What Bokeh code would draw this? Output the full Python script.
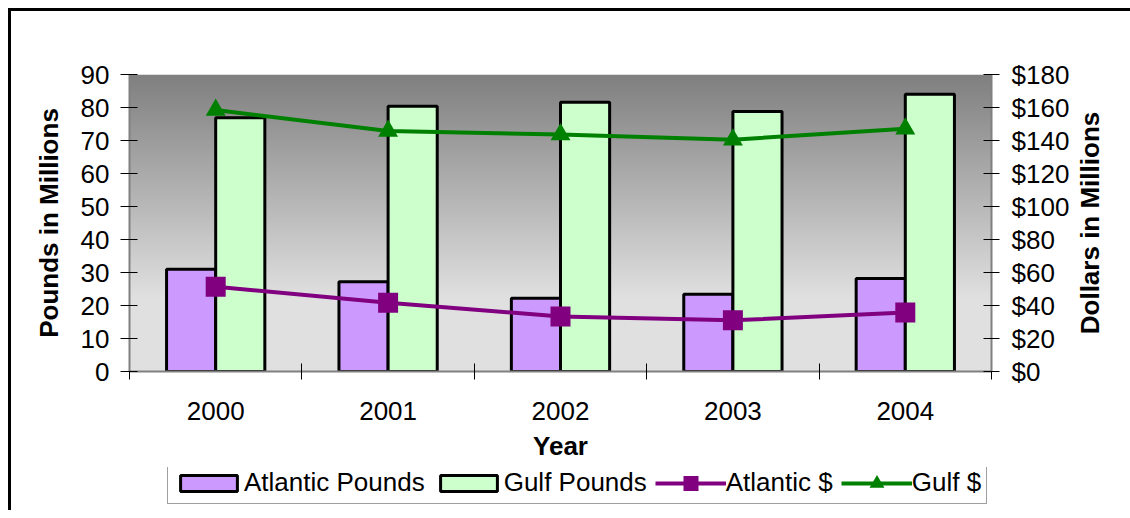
import math
import numpy as np
from bokeh.plotting import figure
from bokeh.layouts import column
from bokeh.models import (Range1d, LinearAxis, FixedTicker, PrintfTickFormatter,
                          Legend, LegendItem, ColumnDataSource, Label)
from bokeh.transform import dodge
from bokeh.embed import file_html
from bokeh.resources import INLINE

# ---- data ----
years = ["2000", "2001", "2002", "2003", "2004"]
atlantic_pounds = [31.0, 27.2, 22.2, 23.4, 28.2]
gulf_pounds = [76.9, 80.4, 81.6, 78.8, 84.0]
atlantic_dollars = [51.4, 41.7, 33.3, 31.0, 35.7]
gulf_dollars = [158.5, 145.7, 143.7, 140.5, 147.1]
pound_ticks = list(range(0, 100, 10))
dollar_ticks = list(range(0, 200, 20))

FONT = "Liberation Sans"
FS = "26px"
C_AP, C_GP, C_AD, C_GD = "#CC99FF", "#CCFFCC", "#800080", "#008000"

x_center = [i + 0.5 for i in range(len(years))]
src = ColumnDataSource(dict(x=x_center, year=years, ap=atlantic_pounds, gp=gulf_pounds,
                            ad=atlantic_dollars, gd=gulf_dollars))


def add_series(fig, dollars_range):
    r_ap = fig.vbar(x=dodge("x", -0.1425, range=fig.x_range), top="ap", width=0.285, source=src,
                    fill_color=C_AP, line_color="black", line_width=3)
    r_gp = fig.vbar(x=dodge("x", 0.1425, range=fig.x_range), top="gp", width=0.285, source=src,
                    fill_color=C_GP, line_color="black", line_width=3)
    r_adl = fig.line("x", "ad", source=src, y_range_name=dollars_range, line_color=C_AD, line_width=4)
    r_adm = fig.scatter("x", "ad", source=src, y_range_name=dollars_range, marker="square", size=13,
                        fill_color=C_AD, line_color=C_AD, line_width=7, line_join="miter")
    r_gdl = fig.line("x", "gd", source=src, y_range_name=dollars_range, line_color=C_GD, line_width=4)
    r_gdm = fig.scatter("x", "gd", source=src, y_range_name=dollars_range, marker="triangle", size=13,
                        fill_color=C_GD, line_color=C_GD, line_width=4, line_join="miter")
    return r_ap, r_gp, r_adl, r_adm, r_gdl, r_gdm


# ---------------- main chart ----------------
p = figure(width=1119, height=456,
           x_range=Range1d(0, len(years)), y_range=Range1d(0, 90),
           output_backend="svg", toolbar_location=None,
           min_border_left=118, min_border_right=139, min_border_top=63, min_border_bottom=96,
           x_axis_type=None, y_axis_type=None)
p.extra_y_ranges = {"dollars": Range1d(0, 180)}
p.outline_line_color = None
p.background_fill_color = "white"
p.border_fill_color = "white"

# gradient background of the plot area
N = 300
t = np.linspace(0, 1, N)  # 0 bottom -> 1 top
g = np.where(t < 0.25, 224, 224 - 96 * (t - 0.25) / 0.75).astype(np.uint8)
img = np.empty((N, 1), dtype=np.uint32)
view = img.view(dtype=np.uint8).reshape((N, 1, 4))
view[:, 0, 0] = g
view[:, 0, 1] = g
view[:, 0, 2] = g
view[:, 0, 3] = 255
p.image_rgba(image=[img], x=0, y=0, dw=len(years), dh=90)

add_series(p, "dollars")


def style_axis(ax):
    ax.axis_line_color = "#808080"
    ax.axis_line_width = 2
    ax.major_tick_line_color = "black"
    ax.major_tick_line_width = 1
    ax.minor_tick_line_color = "black"
    ax.major_label_text_font = FONT
    ax.major_label_text_font_size = FS
    ax.major_label_text_color = "black"
    ax.axis_label_text_font = FONT
    ax.axis_label_text_font_size = FS
    ax.axis_label_text_font_style = "bold"
    ax.axis_label_text_color = "black"


ax_left = LinearAxis(axis_label="Pounds in Millions", ticker=FixedTicker(ticks=pound_ticks))
style_axis(ax_left)
ax_left.major_tick_in = 8
ax_left.major_tick_out = 9
ax_left.major_label_standoff = 11
ax_left.axis_label_standoff = 14
ax_left.minor_tick_line_color = None
p.add_layout(ax_left, "left")

ax_right = LinearAxis(y_range_name="dollars",
                      ticker=FixedTicker(ticks=dollar_ticks),
                      formatter=PrintfTickFormatter(format="$%d"))
style_axis(ax_right)
ax_right.major_tick_in = 8
ax_right.major_tick_out = 8
ax_right.major_label_standoff = 12
ax_right.minor_tick_line_color = None
p.add_layout(ax_right, "right")

# right axis title, reading bottom-to-top
p.add_layout(Label(x=len(years) + 0.574, y=90 / 2, text="Dollars in Millions", angle=math.pi / 2,
                   text_align="center", text_baseline="middle", text_font=FONT,
                   text_font_size=FS, text_font_style="bold", text_color="black"), "right")

ax_x = LinearAxis(axis_label="Year",
                  ticker=FixedTicker(ticks=x_center, minor_ticks=list(range(len(years) + 1))),
                  major_label_overrides={x: y for x, y in zip(x_center, years)})
style_axis(ax_x)
ax_x.major_tick_in = 0
ax_x.major_tick_out = 0
ax_x.minor_tick_in = 8
ax_x.minor_tick_out = 8
ax_x.major_label_standoff = 22
ax_x.axis_label_standoff = 8
p.add_layout(ax_x, "below")

# ---------------- legend strip ----------------
pl = figure(width=1119, height=43, x_range=Range1d(0, len(years)), y_range=Range1d(1000, 1001),
            output_backend="svg", toolbar_location=None,
            min_border_left=118, min_border_right=139, min_border_top=0, min_border_bottom=0,
            x_axis_type=None, y_axis_type=None)
pl.extra_y_ranges = {"dollars": Range1d(1000, 1001)}
pl.outline_line_color = None
pl.background_fill_color = "white"
pl.border_fill_color = "white"
legend_renderers = add_series(pl, "dollars")
for r in legend_renderers:
    r.visible = False
l_ap, l_gp, l_adl, l_adm, l_gdl, l_gdm = legend_renderers

legend = Legend(items=[
    LegendItem(label="Atlantic Pounds", renderers=[l_ap]),
    LegendItem(label="Gulf Pounds", renderers=[l_gp]),
    LegendItem(label="Atlantic $", renderers=[l_adl, l_adm]),
    LegendItem(label="Gulf $", renderers=[l_gdl, l_gdm]),
], orientation="horizontal", location=(38, 6), margin=0, padding=5, spacing=8,
    glyph_width=71, glyph_height=20, label_standoff=0,
    label_text_font=FONT, label_text_font_size=FS, label_text_color="black",
    border_line_color="#404040", border_line_width=1, background_fill_color="white",
    background_fill_alpha=1)
pl.add_layout(legend, "center")

layout = column(p, pl, spacing=0)
layout.styles = {"border-top": "3px solid black", "border-left": "3px solid black",
                 "margin-left": "8px", "margin-top": "8px"}

open("out.html", "w").write(file_html(layout, INLINE))
